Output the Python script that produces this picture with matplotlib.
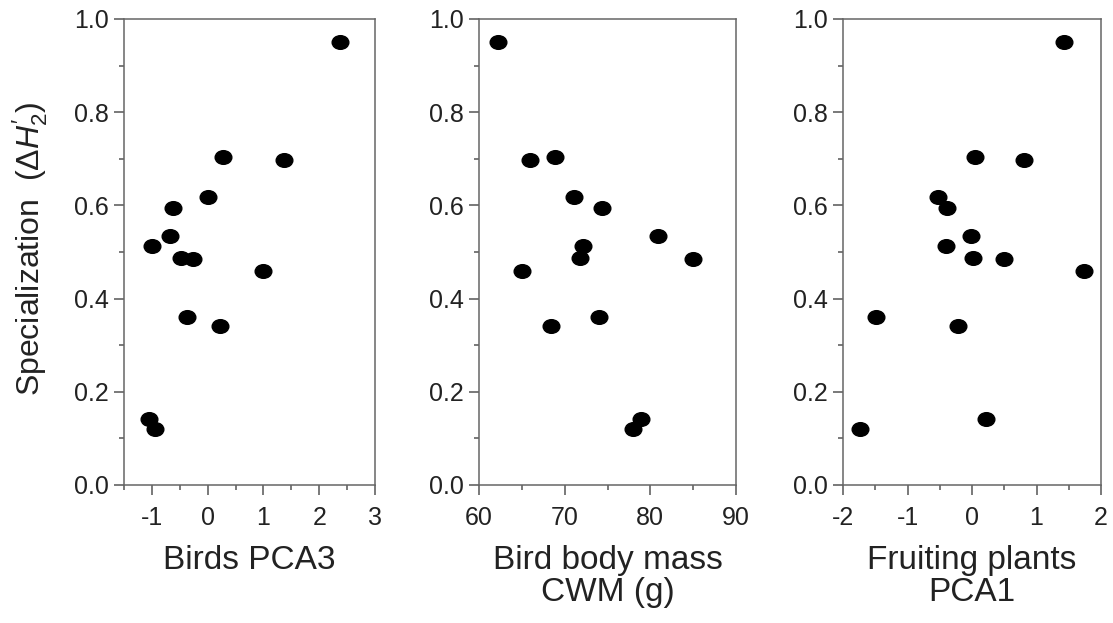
import numpy as np
import matplotlib
matplotlib.use("Agg")
import matplotlib.pyplot as plt
from matplotlib.path import Path
from matplotlib.transforms import Affine2D
from matplotlib.ticker import MultipleLocator, FormatStrFormatter

plt.rcParams["font.family"] = ["Liberation Sans", "DejaVu Sans"]
plt.rcParams["mathtext.fontset"] = "custom"
plt.rcParams["mathtext.rm"] = "Liberation Sans"
plt.rcParams["mathtext.it"] = "Liberation Sans:italic"
plt.rcParams["axes.unicode_minus"] = False

# specialization (delta H2') per site, same order in every panel
spec = [0.951, 0.704, 0.697, 0.618, 0.594, 0.535, 0.513, 0.487, 0.486, 0.460, 0.360, 0.342, 0.142, 0.121]

birds_pca3 = [2.37, 0.28, 1.37, 0.00, -0.62, -0.68, -1.00, -0.48, -0.27, 0.99, -0.37, 0.23, -1.06, -0.94]
body_mass = [62.2, 68.9, 66.0, 71.1, 74.4, 80.9, 72.1, 71.8, 85.0, 65.0, 74.0, 68.4, 78.9, 78.0]
plants_pca1 = [1.43, 0.05, 0.80, -0.53, -0.39, -0.02, -0.40, 0.02, 0.50, 1.74, -1.49, -0.22, 0.21, -1.73]

xlabels = ["Birds PCA3", "Bird body mass\nCWM (g)", "Fruiting plants\nPCA1"]
xlims = [(-1.5, 3), (60, 90), (-2, 2)]
xmajor = [1, 10, 1]
xminor = [0.5, 5, 0.5]

# slightly flattened dots like the original
dot = Path.unit_circle().transformed(Affine2D().scale(1, 0.82))

fig = plt.figure(figsize=(11.13, 6.23), dpi=100)
lefts = [124, 479, 843]
widths = [251, 257, 258]
for i, xs in enumerate([birds_pca3, body_mass, plants_pca1]):
    ax = fig.add_axes([lefts[i] / 1113, 138 / 623, widths[i] / 1113, 466 / 623])
    ax.plot(xs, spec, linestyle="none", marker=dot, ms=12, color="black")
    ax.set_xlim(*xlims[i])
    ax.set_ylim(0, 1)
    ax.xaxis.set_major_locator(MultipleLocator(xmajor[i]))
    ax.xaxis.set_minor_locator(MultipleLocator(xminor[i]))
    ax.yaxis.set_major_locator(MultipleLocator(0.2))
    ax.yaxis.set_minor_locator(MultipleLocator(0.1))
    ax.yaxis.set_major_formatter(FormatStrFormatter("%.1f"))
    for s in ax.spines.values():
        s.set_color("#666666")
        s.set_linewidth(1.1)
    ax.tick_params(which="major", direction="out", length=7, width=1.1, color="#555555",
                   labelsize=18, labelcolor="#222222", pad=4)
    ax.tick_params(axis="x", which="major", pad=8)
    ax.tick_params(which="minor", direction="out", length=3.5, width=1.1, color="#555555")
    ax.set_xlabel(xlabels[i], fontsize=24, color="#222222", labelpad=11, linespacing=1.05)

fig.text(30 / 1113, 0.6, r"Specialization  ($\Delta H_2'$)", rotation=90,
         ha="center", va="center", fontsize=23, color="#222222")

fig.savefig("out.png", dpi=100)
